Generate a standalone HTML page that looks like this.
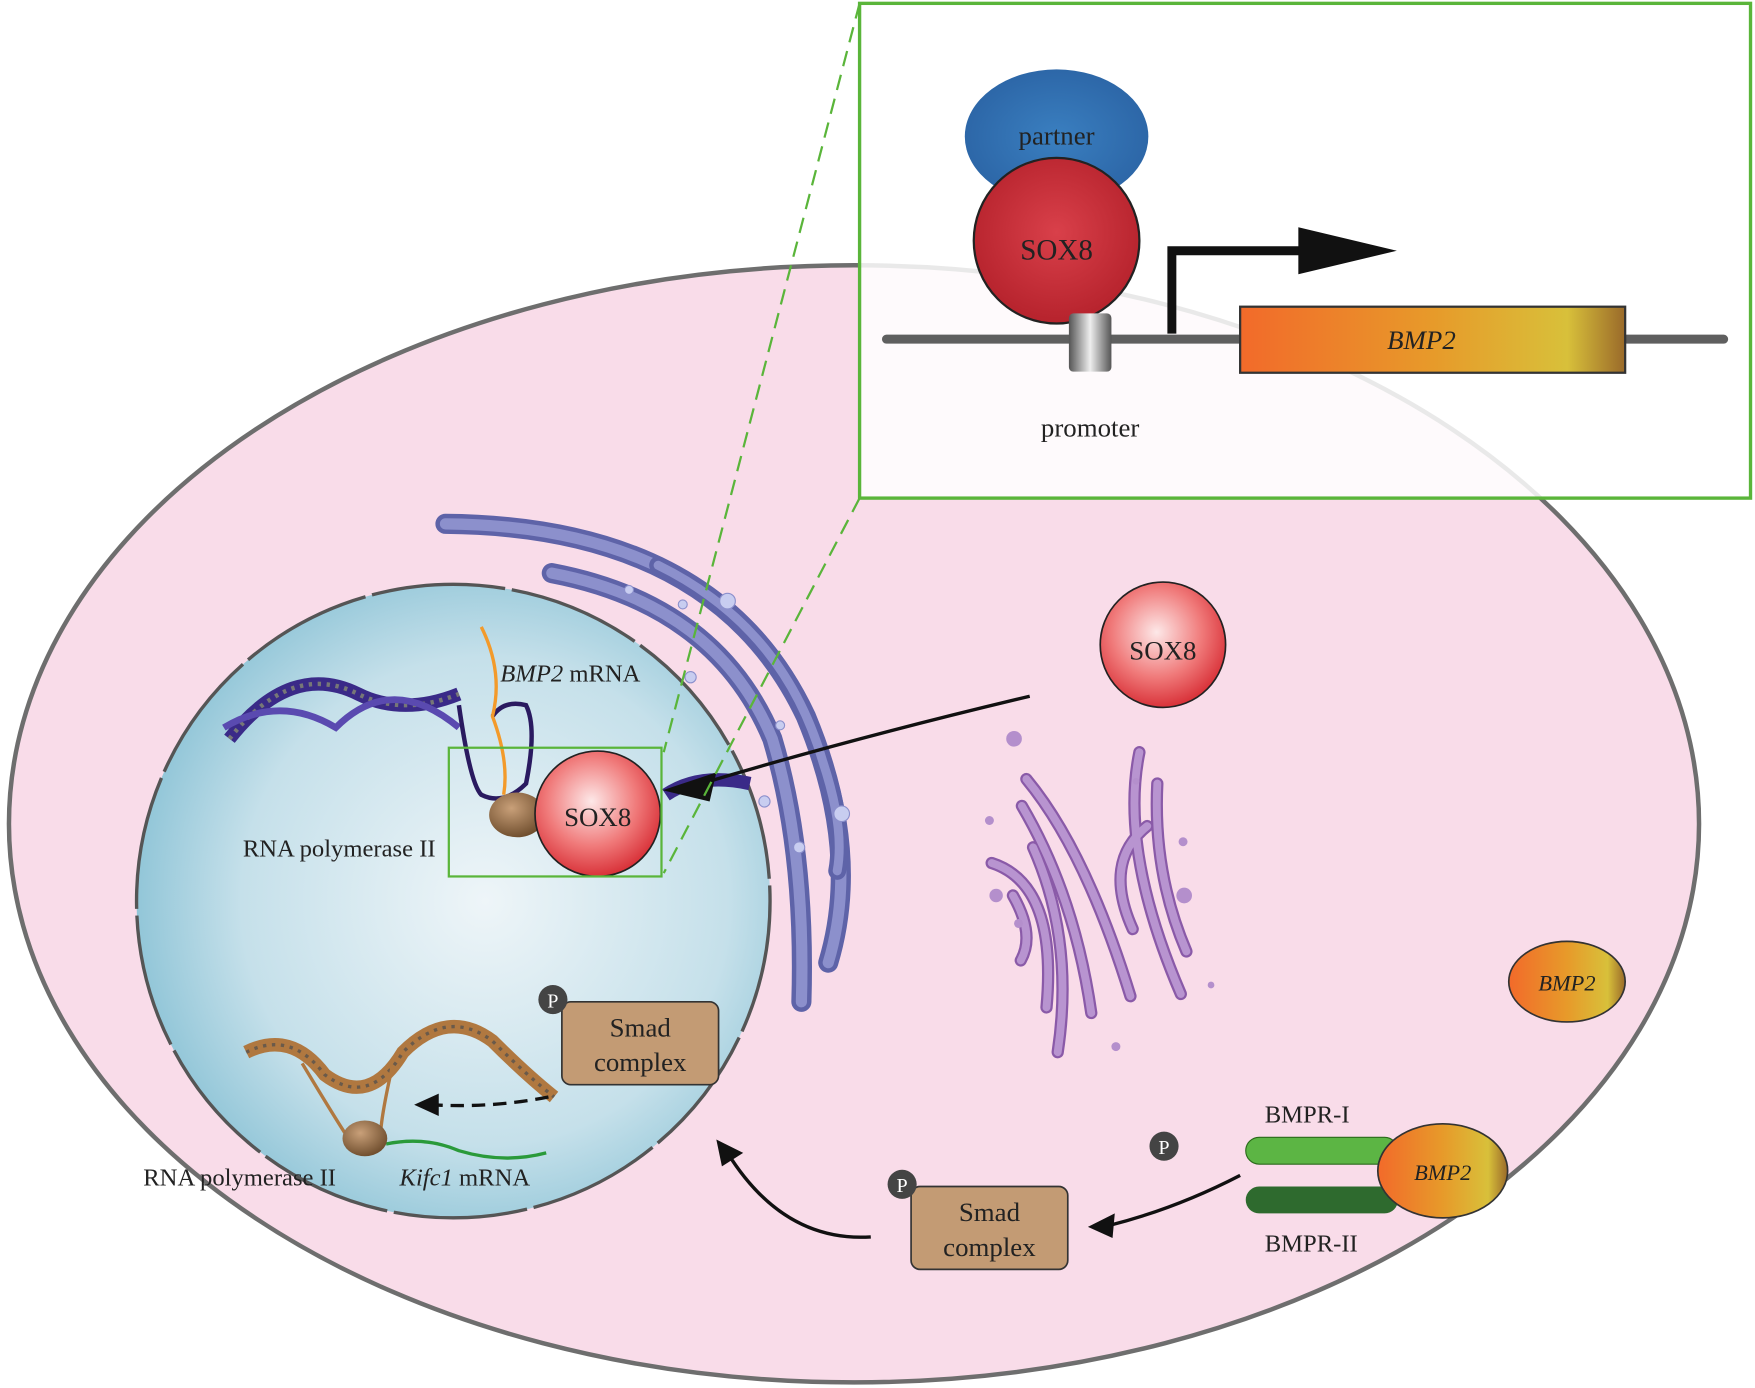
<!DOCTYPE html>
<html><head><meta charset="utf-8"><style>
html,body{margin:0;padding:0;background:#fff;}
svg{display:block;}
text{font-family:"Liberation Serif",serif;}
</style></head><body>
<svg width="1755" height="1388" viewBox="0 0 1568 1240" preserveAspectRatio="none" xmlns="http://www.w3.org/2000/svg">
<defs>
<radialGradient id="nuc" cx="0.55" cy="0.5" r="0.55">
<stop offset="0" stop-color="#eef5f8"/><stop offset="0.7" stop-color="#c5e0ea"/><stop offset="1" stop-color="#92c6d8"/></radialGradient>
<radialGradient id="sox" cx="0.45" cy="0.4" r="0.6">
<stop offset="0" stop-color="#fde8e8"/><stop offset="0.6" stop-color="#f07a7a"/><stop offset="1" stop-color="#d9333a"/></radialGradient>
<radialGradient id="soxd" cx="0.5" cy="0.45" r="0.6">
<stop offset="0" stop-color="#d9404a"/><stop offset="1" stop-color="#b3202a"/></radialGradient>
<radialGradient id="partner" cx="0.5" cy="0.5" r="0.6">
<stop offset="0" stop-color="#3a7fc0"/><stop offset="1" stop-color="#2a62a3"/></radialGradient>
<linearGradient id="bmp" x1="0" x2="1">
<stop offset="0" stop-color="#f26a2a"/><stop offset="0.5" stop-color="#e79a2a"/><stop offset="0.85" stop-color="#d8c03a"/><stop offset="1" stop-color="#9a6a2a"/></linearGradient>
<radialGradient id="pol" cx="0.4" cy="0.35" r="0.7">
<stop offset="0" stop-color="#c9a079"/><stop offset="1" stop-color="#6b4a2a"/></radialGradient>
<linearGradient id="prom" x1="0" x2="1">
<stop offset="0" stop-color="#555"/><stop offset="0.5" stop-color="#eee"/><stop offset="1" stop-color="#555"/></linearGradient>
</defs>

<ellipse cx="763" cy="736" rx="755" ry="499" fill="#f9dce9" stroke="#6e6e6e" stroke-width="4"/>

<circle cx="405" cy="805" r="283" fill="url(#nuc)" stroke="#555" stroke-width="3" stroke-dasharray="120 6"/>

<g fill="none" stroke-linecap="round">
<path d="M398 468 Q640 470 720 640 Q770 760 740 860" stroke="#5e63a8" stroke-width="18"/>
<path d="M398 468 Q640 470 720 640 Q770 760 740 860" stroke="#8c90cc" stroke-width="10"/>
<path d="M493 512 Q640 540 690 660 Q720 760 716 895" stroke="#5e63a8" stroke-width="18"/>
<path d="M493 512 Q640 540 690 660 Q720 760 716 895" stroke="#8c90cc" stroke-width="10"/>
<path d="M588 505 Q700 560 735 680 Q755 740 748 778" stroke="#5e63a8" stroke-width="16"/>
<path d="M588 505 Q700 560 735 680 Q755 740 748 778" stroke="#8c90cc" stroke-width="8"/>
</g>
<g fill="#c8cdf0" stroke="#8c90cc" stroke-width="1">
<circle cx="650" cy="537" r="7"/><circle cx="752" cy="727" r="7"/><circle cx="683" cy="716" r="5"/><circle cx="617" cy="605" r="5"/><circle cx="562" cy="527" r="4"/><circle cx="610" cy="540" r="4"/><circle cx="714" cy="757" r="5"/><circle cx="697" cy="648" r="4"/>
</g>

<!-- Golgi -->
<g fill="none" stroke-linecap="round">
<g stroke="#8a5aa8" stroke-width="11">
<path d="M1018 672 Q1000 760 1055 888"/>
<path d="M1034 700 Q1030 780 1060 850"/>
<path d="M1025 738 Q985 770 1012 830"/>
<path d="M917 696 Q970 760 1010 890"/>
<path d="M913 720 Q960 800 975 905"/>
<path d="M923 757 Q960 840 945 940"/>
<path d="M886 771 Q945 790 935 900"/>
<path d="M905 800 Q925 835 912 858"/>
</g>
<g stroke="#b894d0" stroke-width="7">
<path d="M1018 672 Q1000 760 1055 888"/>
<path d="M1034 700 Q1030 780 1060 850"/>
<path d="M1025 738 Q985 770 1012 830"/>
<path d="M917 696 Q970 760 1010 890"/>
<path d="M913 720 Q960 800 975 905"/>
<path d="M923 757 Q960 840 945 940"/>
<path d="M886 771 Q945 790 935 900"/>
<path d="M905 800 Q925 835 912 858"/>
</g>
</g>
<g fill="#b48fcc">
<circle cx="906" cy="660" r="7"/><circle cx="890" cy="800" r="6"/><circle cx="1058" cy="800" r="7"/><circle cx="884" cy="733" r="4"/><circle cx="1057" cy="752" r="4"/><circle cx="1015" cy="698" r="3"/><circle cx="910" cy="825" r="4"/><circle cx="997" cy="935" r="4"/><circle cx="1082" cy="880" r="3"/>
</g>

<g fill="none">
<path d="M205 660 Q260 590 320 620 Q360 640 410 620" stroke="#3a2a88" stroke-width="12"/>
<path d="M205 660 Q260 590 320 620 Q360 640 410 620" stroke="#777" stroke-width="4" stroke-dasharray="3 5"/>
<path d="M200 650 Q250 620 300 650 Q350 600 410 650" stroke="#5a4ab0" stroke-width="6"/>
<path d="M410 630 Q420 700 430 710 Q450 720 470 700 Q480 650 470 630 Q450 625 440 640" stroke="#2a1a60" stroke-width="4"/>
<path d="M430 560 Q450 600 440 640 Q455 680 450 710" stroke="#f39a2a" stroke-width="3"/>
<path d="M595 710 Q625 690 670 700" stroke="#3a2a88" stroke-width="12"/>
</g>
<ellipse cx="462" cy="728" rx="25" ry="20" fill="url(#pol)"/>
<circle cx="534" cy="727" r="56" fill="url(#sox)" stroke="#222" stroke-width="1.5"/>
<text x="534" y="738" font-size="24" text-anchor="middle" fill="#222">SOX8</text>
<text x="447" y="609" font-size="22" fill="#222"><tspan font-style="italic">BMP2</tspan> mRNA</text>
<text x="217" y="765" font-size="22" fill="#222">RNA polymerase II</text>
<rect x="401" y="668" width="190" height="115" fill="none" stroke="#5ab53a" stroke-width="2"/>

<path d="M920 622 Q760 660 620 702" fill="none" stroke="#111" stroke-width="3"/>
<polygon points="592,706 640,690 634,716" fill="#111"/>

<line x1="768" y1="3" x2="593" y2="672" stroke="#5ab53a" stroke-width="2" stroke-dasharray="14 8"/>
<line x1="768" y1="445" x2="593" y2="780" stroke="#5ab53a" stroke-width="2" stroke-dasharray="14 8"/>

<rect x="768" y="3" width="796" height="442" fill="#fff" fill-opacity="0.85" stroke="#5ab53a" stroke-width="3"/>
<line x1="792" y1="303" x2="1540" y2="303" stroke="#5f5f5f" stroke-width="8" stroke-linecap="round"/>
<ellipse cx="944" cy="122" rx="82" ry="60" fill="url(#partner)"/>
<text x="944" y="129" font-size="24" text-anchor="middle" fill="#222">partner</text>
<circle cx="944" cy="215" r="74" fill="url(#soxd)" stroke="#222" stroke-width="2"/>
<text x="944" y="232" font-size="26" text-anchor="middle" fill="#222">SOX8</text>
<rect x="955" y="280" width="38" height="52" rx="4" fill="url(#prom)"/>
<text x="974" y="390" font-size="24" text-anchor="middle" fill="#222">promoter</text>
<path d="M1047 298 V224 H1165" fill="none" stroke="#111" stroke-width="8"/>
<polygon points="1160,203 1248,224 1160,245" fill="#111"/>
<rect x="1108" y="274" width="344" height="59" fill="url(#bmp)" stroke="#333" stroke-width="2"/>
<text x="1270" y="312" font-size="24" font-style="italic" text-anchor="middle" fill="#222">BMP2</text>

<circle cx="1039" cy="576" r="56" fill="url(#sox)" stroke="#222" stroke-width="1.5"/>
<text x="1039" y="589" font-size="24" text-anchor="middle" fill="#222">SOX8</text>

<ellipse cx="1400" cy="877" rx="52" ry="36" fill="url(#bmp)" stroke="#333" stroke-width="1.5"/>
<text x="1400" y="885" font-size="20" font-style="italic" text-anchor="middle" fill="#222">BMP2</text>

<rect x="1113" y="1016" width="136" height="24" rx="12" fill="#5cb544" stroke="#2a6a1a" stroke-width="1"/>
<rect x="1113" y="1060" width="136" height="24" rx="12" fill="#2e6a2e"/>
<ellipse cx="1289" cy="1046" rx="58" ry="42" fill="url(#bmp)" stroke="#333" stroke-width="1.5"/>
<text x="1289" y="1054" font-size="20" font-style="italic" text-anchor="middle" fill="#222">BMP2</text>
<text x="1130" y="1003" font-size="22" fill="#222">BMPR-I</text>
<text x="1130" y="1118" font-size="22" fill="#222">BMPR-II</text>
<circle cx="1040" cy="1024" r="13" fill="#444"/>
<text x="1040" y="1031" font-size="18" text-anchor="middle" fill="#fff">P</text>

<path d="M1108 1050 Q1050 1080 990 1095" fill="none" stroke="#111" stroke-width="3"/>
<polygon points="972,1096 996,1084 994,1106" fill="#111"/>
<path d="M778 1105 Q700 1110 650 1030" fill="none" stroke="#111" stroke-width="3"/>
<polygon points="640,1018 664,1030 645,1042" fill="#111"/>

<rect x="814" y="1060" width="140" height="74" rx="8" fill="#c39b74" stroke="#333" stroke-width="1.5"/>
<text x="884" y="1091" font-size="24" text-anchor="middle" fill="#222">Smad</text>
<text x="884" y="1122" font-size="24" text-anchor="middle" fill="#222">complex</text>
<circle cx="806" cy="1058" r="13" fill="#444"/>
<text x="806" y="1065" font-size="18" text-anchor="middle" fill="#fff">P</text>

<rect x="502" y="895" width="140" height="74" rx="8" fill="#c39b74" stroke="#333" stroke-width="1.5"/>
<text x="572" y="926" font-size="24" text-anchor="middle" fill="#222">Smad</text>
<text x="572" y="957" font-size="24" text-anchor="middle" fill="#222">complex</text>
<circle cx="494" cy="893" r="13" fill="#444"/>
<text x="494" y="900" font-size="18" text-anchor="middle" fill="#fff">P</text>

<g fill="none">
<path d="M220 940 Q260 920 290 960 Q330 990 360 940 Q400 900 440 930 Q470 960 495 980" stroke="#b07840" stroke-width="12"/>
<path d="M220 940 Q260 920 290 960 Q330 990 360 940 Q400 900 440 930 Q470 960 495 980" stroke="#6a5a4a" stroke-width="3" stroke-dasharray="3 5"/>
<path d="M270 950 Q300 1000 310 1015 M350 955 Q340 1000 340 1015" stroke="#b07840" stroke-width="3"/>
<path d="M345 1022 Q380 1015 410 1028 Q450 1040 488 1030" stroke="#2a9a3a" stroke-width="3"/>
<path d="M490 980 Q440 990 385 987" stroke="#111" stroke-width="3" stroke-dasharray="12 7"/>
</g>
<polygon points="370,987 392,977 392,997" fill="#111"/>
<ellipse cx="326" cy="1017" rx="20" ry="16" fill="url(#pol)"/>
<text x="128" y="1059" font-size="22" fill="#222">RNA polymerase II</text>
<text x="357" y="1059" font-size="22" fill="#222"><tspan font-style="italic">Kifc1</tspan> mRNA</text>
</svg>
</body></html>
